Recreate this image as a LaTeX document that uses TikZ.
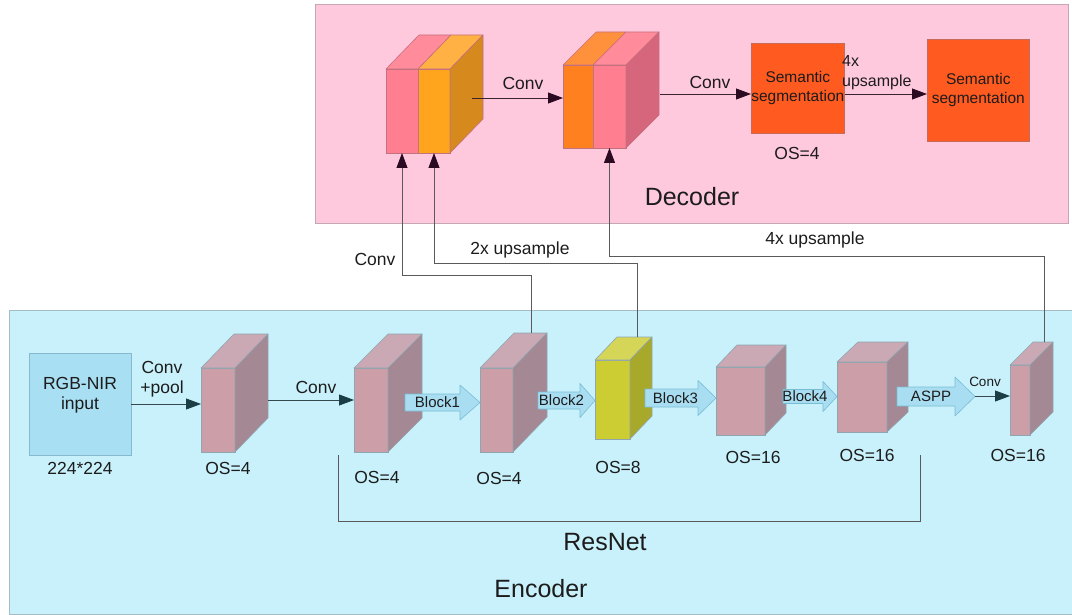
\documentclass[tikz,border=0pt]{standalone}
\usepackage{fontspec}
\setmainfont{Liberation Sans}
\usetikzlibrary{arrows.meta}

\definecolor{decbg}{HTML}{FFC9DD}
\definecolor{decline}{HTML}{C4A6B4}
\definecolor{encbg}{HTML}{C9F1FB}
\definecolor{encline}{HTML}{A6BCC4}
\definecolor{inputfill}{HTML}{A9DFF2}
\definecolor{inputline}{HTML}{86B9CC}
\definecolor{encF}{HTML}{CC9EA8}
\definecolor{encT}{HTML}{CAA9B4}
\definecolor{encS}{HTML}{A48893}
\definecolor{ylwF}{HTML}{CCCC33}
\definecolor{ylwT}{HTML}{D5D558}
\definecolor{ylwS}{HTML}{A8A82B}
\definecolor{cubeline}{HTML}{8FA6B0}
\definecolor{pinkF}{HTML}{FF7F91}
\definecolor{pinkT}{HTML}{FF8B9B}
\definecolor{pinkS}{HTML}{D5667B}
\definecolor{orgF}{HTML}{FFA51D}
\definecolor{orgT}{HTML}{FFB144}
\definecolor{orgS}{HTML}{D6891C}
\definecolor{orgbF}{HTML}{FF801E}
\definecolor{orgbT}{HTML}{FF903C}
\definecolor{decedge}{HTML}{C4707E}
\definecolor{semfill}{HTML}{FF5A1F}
\definecolor{semline}{HTML}{C86A5A}
\definecolor{fatfill}{HTML}{A9DEF2}
\definecolor{fatline}{HTML}{78BCD4}
\definecolor{wire}{HTML}{5A5A5A}
\definecolor{decwire}{HTML}{3A2231}
\definecolor{decarrowc}{HTML}{2B0B22}
\definecolor{encwire}{HTML}{34484E}
\definecolor{encarrowc}{HTML}{1B3D46}
\definecolor{ink}{HTML}{1C1C1C}

% cuboid: name, front top-left, width, height, depth dx, depth dy, palette prefix, edge colour
\newcommand{\cuboid}[8]{%
  \node[draw=#8, fill=#7F, minimum width=#3pt, minimum height=#4pt, inner sep=0pt,
        outer sep=0pt, anchor=north west, line width=0.6pt] (#1) at (#2) {};
  \filldraw[draw=#8, fill=#7T, line width=0.6pt, line join=round]
    (#1.north west) -- ++(#5,-#6) -- ++(#3,0) -- (#1.north east) -- cycle;
  \filldraw[draw=#8, fill=#7S, line width=0.6pt, line join=round]
    (#1.north east) -- ++(#5,-#6) coordinate (#1-br) -- ++(0,#4) -- (#1.south east) -- cycle;
}

% block arrow: name, x start, x head, x tip, y centre, half body, half head, label
\newcommand{\fatarrow}[8]{%
  \filldraw[fill=fatfill, draw=fatline, line width=0.6pt, line join=round]
    (#2,{#5-#6}) -- (#3,{#5-#6}) -- (#3,{#5-#7}) -- (#4,#5) -- (#3,{#5+#7})
    -- (#3,{#5+#6}) -- (#2,{#5+#6}) -- cycle;
  \node[small] (#1) at ({(#2+#4)/2-5},#5) {#8};
}

\begin{document}
\begin{tikzpicture}[x=1pt, y=-1pt,
  lab/.style={font=\fontsize{17.5}{20}\selectfont, text=ink, inner sep=0pt, align=center},
  big/.style={font=\fontsize{25}{28}\selectfont, text=ink, inner sep=0pt},
  small/.style={font=\fontsize{15}{17}\selectfont, text=ink, inner sep=0pt},
  tiny/.style={font=\fontsize{13.5}{15}\selectfont, text=ink, inner sep=0pt},
  panel/.style={anchor=north west, inner sep=0pt, outer sep=0pt, line width=0.8pt},
  decarrow/.style={draw=decwire, line width=0.8pt,
    -{Triangle[length=15pt, width=11pt, color=decarrowc]}},
  uparrow/.style={draw=wire, line width=0.8pt,
    -{Triangle[length=15pt, width=11pt, color=decarrowc]}},
  encarrow/.style={draw=encwire, line width=0.8pt,
    -{Triangle[length=15pt, width=11pt, color=encarrowc]}},
  semantic/.style={anchor=north west, fill=semfill, draw=semline, line width=0.6pt,
    inner sep=0pt, font=\fontsize{15.5}{19}\selectfont, text=ink, align=center},
]
\useasboundingbox (0,0) rectangle (1072,615);

% ---------- panels ----------
\node[panel, fill=decbg, draw=decline, minimum width=753pt, minimum height=219pt]
  (decoder) at (315,4) {};
\node[panel, fill=encbg, draw=encline, minimum width=1063pt, minimum height=304pt]
  (encoder) at (9,310) {};
\node[big] (declabel) at (692,197) {Decoder};
\node[big] (enclabel) at (541,589) {Encoder};

% ---------- encoder ----------
\node[panel, fill=inputfill, draw=inputline, minimum width=102pt, minimum height=102pt]
  (rgb) at (29,353) {};
\node[lab] (rgbtext) at (80,395) {RGB-NIR\\input};
\node[lab] (size) at (80,468) {224*224};

\cuboid{c1}{201,368}{34}{84}{33}{34}{enc}{cubeline}
\cuboid{c2}{354,368}{34}{84}{34}{34}{enc}{cubeline}
\cuboid{c3}{480,368}{33}{84}{34}{35}{enc}{cubeline}
\cuboid{c4}{595,360}{35}{79}{22}{23}{ylw}{cubeline}
\cuboid{c5}{716,367}{49}{68}{21}{22}{enc}{cubeline}
\cuboid{c6}{837,362}{50}{70}{21}{20}{enc}{cubeline}
\cuboid{c7}{1010,365}{20}{70}{23}{23}{enc}{cubeline}

\node[lab] (os1) at (228,468) {OS=4};
\node[lab] (os2) at (377,477) {OS=4};
\node[lab] (os3) at (499,478) {OS=4};
\node[lab] (os4) at (618,467) {OS=8};
\node[lab] (os5) at (753,457) {OS=16};
\node[lab] (os6) at (867,455) {OS=16};
\node[lab] (os7) at (1018,455) {OS=16};

\draw[encarrow] (rgb.east) -- (rgb.east -| c1.west);
\node[lab] (convpool) at (162,379) {Conv\\+pool};
\draw[encarrow] (c1-br |- 0,400) -- (c2.west |- 0,400);
\node[lab] (conv1) at (316,387) {Conv};

\fatarrow{b1}{405}{460}{480}{402.5}{8.5}{17.5}{Block1}
\fatarrow{b2}{538}{580}{595}{400.5}{8.5}{17}{Block2}
\fatarrow{b3}{645}{698}{716}{398}{9}{17.5}{Block3}
\fatarrow{b4}{783}{823}{837}{396.5}{7}{15}{Block4}
\fatarrow{aspp}{897}{955}{975}{396.5}{9.5}{19.5}{ASPP}

\coordinate (asppout) at (975,396);
\draw[encarrow] (asppout) -- (c7.west |- asppout);
\node[tiny] (conv2) at (985,382) {Conv};

% ResNet bracket
\draw[wire, line width=0.8pt] (338,455) -- (338,521) -- (920,521) -- (920,455);
\node[big] (resnet) at (605,542) {ResNet};

% ---------- decoder ----------
\node[draw=decedge, fill=pinkF, minimum width=32pt, minimum height=84pt, inner sep=0pt,
      outer sep=0pt, anchor=north west, line width=0.6pt] (dApink) at (386,69) {};
\node[draw=decedge, fill=orgF, minimum width=32pt, minimum height=84pt, inner sep=0pt,
      outer sep=0pt, anchor=north west, line width=0.6pt] (dAorg) at (418,69) {};
\filldraw[draw=decedge, fill=pinkT, line width=0.6pt, line join=round]
  (dApink.north west) -- ++(33,-34) -- ++(32,0) -- (dApink.north east) -- cycle;
\filldraw[draw=decedge, fill=orgT, line width=0.6pt, line join=round]
  (dAorg.north west) -- ++(33,-34) -- ++(32,0) -- (dAorg.north east) -- cycle;
\filldraw[draw=decedge, fill=orgS, line width=0.6pt, line join=round]
  (dAorg.north east) -- ++(33,-34) coordinate (dA-br) -- ++(0,84) -- (dAorg.south east) -- cycle;

\node[draw=decedge, fill=orgbF, minimum width=30pt, minimum height=83pt, inner sep=0pt,
      outer sep=0pt, anchor=north west, line width=0.6pt] (dBorg) at (563,65) {};
\node[draw=decedge, fill=pinkF, minimum width=33pt, minimum height=83pt, inner sep=0pt,
      outer sep=0pt, anchor=north west, line width=0.6pt] (dBpink) at (593,65) {};
\filldraw[draw=decedge, fill=orgbT, line width=0.6pt, line join=round]
  (dBorg.north west) -- ++(33,-33) -- ++(30,0) -- (dBorg.north east) -- cycle;
\filldraw[draw=decedge, fill=pinkT, line width=0.6pt, line join=round]
  (dBpink.north west) -- ++(33,-33) -- ++(33,0) -- (dBpink.north east) -- cycle;
\filldraw[draw=decedge, fill=pinkS, line width=0.6pt, line join=round]
  (dBpink.north east) -- ++(33,-33) coordinate (dB-br) -- ++(0,83) -- (dBpink.south east) -- cycle;

\node[semantic, minimum width=91pt, minimum height=90pt] (sem1) at (751,43)
  {Semantic\\segmentation};
\node[semantic, minimum width=102pt, minimum height=102pt] (sem2) at (927,39)
  {Semantic\\segmentation};
\node[lab] (os8) at (797,153) {OS=4};

\coordinate (dAout) at (472,98);
\draw[decarrow] (dAout) -- (dBorg.west |- dAout);
\node[lab] (conv3) at (523,83) {Conv};
\coordinate (dBout) at (660,94);
\draw[decarrow] (dBout) -- (sem1.west |- dBout);
\node[lab] (conv4) at (710,82) {Conv};
\draw[decarrow] (sem1.east |- dBout) -- (sem2.west |- dBout);
\node[font=\fontsize{16}{20}\selectfont, text=ink, inner sep=0pt, align=left, anchor=west]
  (up4a) at (842,73) {4x\\upsample};

% ---------- skip connections ----------
\draw[uparrow] ([xshift=-16pt]c3-br) -- ++(0,-58) -| (dApink.south);
\draw[uparrow] ([xshift=-15pt]c4-br) -- ++(0,-74) -| (dAorg.south);
\draw[uparrow] ([xshift=-9pt]c7-br) -- ++(0,-86) -| (dBpink.south);
\node[lab] (conv5) at (375,259) {Conv};
\node[lab] (up2) at (520,250) {2x upsample};
\node[lab] (up4b) at (815,240) {4x upsample};

\end{tikzpicture}
\end{document}
